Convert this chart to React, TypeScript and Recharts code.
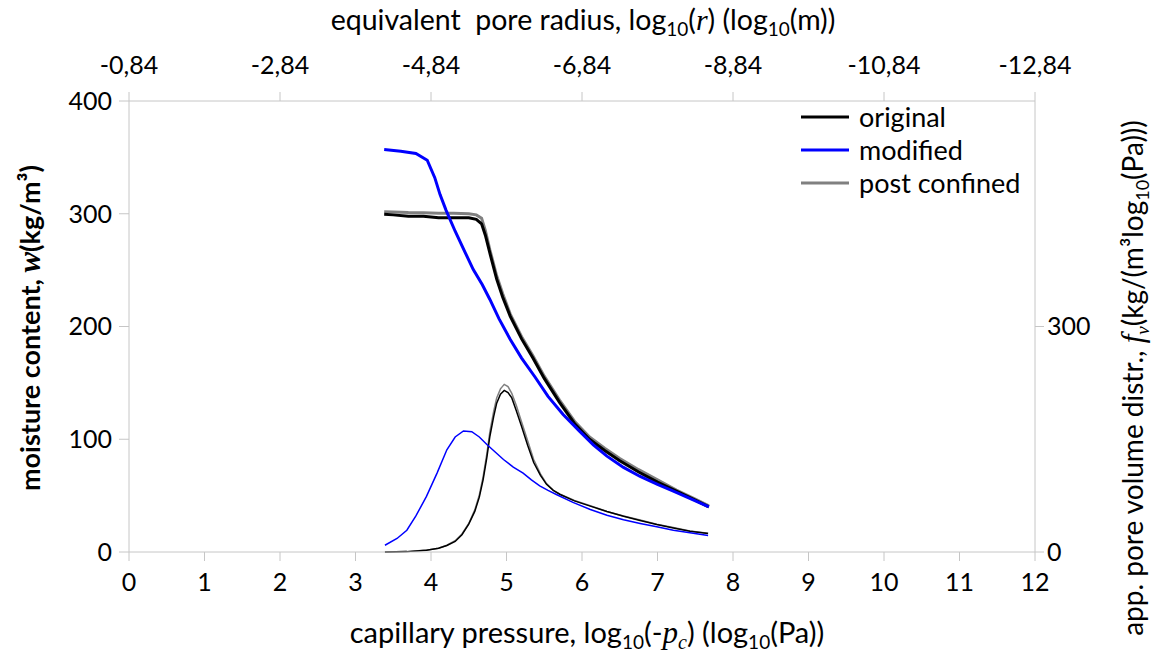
import React from 'react';
import { LineChart, Line, XAxis, YAxis } from 'recharts';

// capillary pressure log10(-pc) grid and moisture content w (kg/m3)
const pcOriginal = [3.38, 3.5, 3.7, 3.9, 4.1, 4.3, 4.5, 4.6, 4.67, 4.72, 4.78, 4.87, 4.95, 5.05, 5.2, 5.35, 5.5, 5.7, 5.9, 6.1, 6.3, 6.5, 6.75, 7.0, 7.25, 7.5, 7.68];
const wOriginal = [299.5, 299, 297.8, 297.8, 296.5, 296.4, 296.4, 295, 291, 281, 265, 242, 226, 209, 189, 172, 154, 133, 114, 100, 90, 81, 71, 62, 54, 46, 40];
const wPostConfined = [301.7, 301.5, 301, 300.8, 300.5, 300.5, 300, 299, 296, 285, 268, 245, 229, 211, 191, 174, 156, 135, 116, 102, 92, 83, 73, 64, 55, 47, 41];

const pcModified = [3.38, 3.6, 3.8, 3.95, 4.05, 4.12, 4.2, 4.32, 4.45, 4.56, 4.68, 4.78, 4.9, 5.05, 5.2, 5.38, 5.55, 5.75, 5.97, 6.15, 6.33, 6.55, 6.77, 7.0, 7.21, 7.45, 7.68];
const wModified = [357, 355.5, 353.4, 347.5, 332, 317, 303, 284.5, 266, 250.5, 237, 224, 207, 188.5, 172, 155, 138, 122, 107, 95, 85, 75, 67, 60, 54, 47, 40];

// apparent pore volume distribution fv
const pcDistr = [3.39, 3.68, 3.94, 4.1, 4.21, 4.32, 4.41, 4.5, 4.58, 4.64, 4.69, 4.74, 4.78, 4.83, 4.87, 4.92, 4.97, 5.02, 5.07, 5.13, 5.2, 5.28, 5.36, 5.45, 5.53, 5.62, 5.71, 5.9, 6.11, 6.33, 6.55, 6.77, 6.99, 7.21, 7.43, 7.67];
const fvOriginal = [0, 0.5, 2.4, 5, 8.6, 14, 23, 37, 54, 73, 96, 126, 154, 180, 198, 210, 215, 212, 205, 188, 167, 142, 119, 102, 90, 82, 76.5, 68, 61, 54, 47.6, 42, 36.6, 32, 27.7, 24.6];
const fvPostConfined = [0, 0.5, 2.5, 5, 9, 15, 24, 38, 56, 76, 100, 131, 160, 187, 205, 217, 223, 220, 211, 195, 173, 148, 123, 104, 91, 82, 77, 68.5, 61.5, 54, 48, 42.5, 37, 32.5, 28, 25];

const pcDistrModified = [3.39, 3.55, 3.68, 3.8, 3.94, 4.08, 4.21, 4.32, 4.43, 4.54, 4.64, 4.74, 4.85, 4.96, 5.09, 5.22, 5.33, 5.44, 5.55, 5.66, 5.88, 6.11, 6.33, 6.55, 6.77, 6.99, 7.21, 7.43, 7.67];
const fvModified = [9, 18, 29, 48, 74, 105, 136, 153, 161, 160, 153, 143, 133, 123, 113, 105, 96, 88, 82, 76.5, 66, 56.5, 49, 43, 38, 33.5, 29, 25.5, 22];

const bottomTicks = [0, 1, 2, 3, 4, 5, 6, 7, 8, 9, 10, 11, 12];
const topTicks = [0, 2, 4, 6, 8, 10, 12];
const topTickLabels = ['-0,84', '-2,84', '-4,84', '-6,84', '-8,84', '-10,84', '-12,84'];
const leftTicks = [0, 100, 200, 300, 400];
const rightTicks = [0, 300];

const legendNames = ['original', 'modified', 'post confined'];
const legendColors = ['#000000', '#0000ff', '#808080'];

const toPoints = (xs: number[], ys: number[]) => xs.map((x, i) => ({ x, y: ys[i] }));

const W = 1162;
const H = 662;
const FONT = 'Lato, "Open Sans", sans-serif';
const MATH = '"Liberation Serif", "DejaVu Serif", serif';
const AXIS = '#c6c6c6';
const tickStyle = { fill: '#000', fontSize: 25, fontFamily: FONT };

const Titles = () => (
  <svg width={W} height={H} style={{ position: 'absolute', left: 0, top: 0, pointerEvents: 'none' }}>
    <text x={583} y={30} textAnchor="middle" fontSize={28.5} fontFamily={FONT} fill="#000" style={{ whiteSpace: 'pre' }}>
      {'equivalent  pore radius, log'}<tspan fontSize={19} dy={6}>10</tspan>
      <tspan dy={-6}>(</tspan>
      <tspan fontFamily={MATH} fontStyle="italic" fontSize={30}>r</tspan>) (log<tspan fontSize={19} dy={6}>10</tspan>
      <tspan dy={-6}>(m))</tspan>
    </text>
    <text x={587} y={643} textAnchor="middle" fontSize={29} fontFamily={FONT} fill="#000">
      capillary pressure, log<tspan fontSize={19} dy={6}>10</tspan>
      <tspan dy={-6}>(-</tspan>
      <tspan fontFamily={MATH} fontStyle="italic" fontSize={31}>p</tspan>
      <tspan fontFamily={MATH} fontStyle="italic" fontSize={20} dy={6}>c</tspan>
      <tspan dy={-6}>) (log</tspan>
      <tspan fontSize={19} dy={6}>10</tspan>
      <tspan dy={-6}>(Pa))</tspan>
    </text>
    <text transform="translate(40,328) rotate(-90)" textAnchor="middle" fontSize={27} fontWeight="bold" fontFamily={FONT} fill="#000">
      moisture content, <tspan fontFamily={MATH} fontStyle="italic" fontSize={31}>w</tspan>(kg/m³)
    </text>
    <text transform="translate(1143,378) rotate(-90)" textAnchor="middle" fontSize={28} fontFamily={FONT} fill="#000">
      app. pore volume distr., <tspan fontFamily={MATH} fontStyle="italic" fontSize={31}>f</tspan>
      <tspan fontFamily={MATH} fontStyle="italic" fontSize={19} dy={6}>v</tspan>
      <tspan dy={-6}>(kg/(m³log</tspan>
      <tspan fontSize={18} dy={6}>10</tspan>
      <tspan dy={-6}>(Pa)))</tspan>
    </text>
  </svg>
);

const LegendBox = () => (
  <div style={{ position: 'absolute', left: 801, top: 100, fontFamily: FONT, fontSize: 27, color: '#000' }}>
    {legendNames.map((name, i) => (
      <div key={name} style={{ display: 'flex', alignItems: 'center', height: 33 }}>
        <svg width={48} height={6} style={{ marginRight: 10 }}>
          <line x1={0} y1={3} x2={48} y2={3} stroke={legendColors[i]} strokeWidth={3} />
        </svg>
        <span style={{ lineHeight: '33px' }}>{name}</span>
      </div>
    ))}
  </div>
);

export default function App() {
  return (
    <div style={{ position: 'absolute', left: 0, top: 0, width: W, height: H, background: '#fff' }}>
      <LineChart width={W} height={H} margin={{ top: 0, right: 0, bottom: 0, left: 0 }}>
        <XAxis
          xAxisId="bottom"
          type="number"
          dataKey="x"
          domain={[0, 12]}
          ticks={bottomTicks}
          allowDataOverflow
          height={110}
          tickSize={9}
          tickMargin={12}
          axisLine={{ stroke: AXIS }}
          tickLine={{ stroke: AXIS }}
          tick={tickStyle}
        />
        <XAxis
          xAxisId="top"
          orientation="top"
          type="number"
          dataKey="x"
          domain={[0, 12]}
          ticks={topTicks}
          allowDataOverflow
          height={101}
          tickSize={9}
          tickMargin={18}
          axisLine={{ stroke: AXIS }}
          tickLine={{ stroke: AXIS }}
          tick={tickStyle}
          tickFormatter={(v: number) => topTickLabels[topTicks.indexOf(v)]}
        />
        <YAxis
          yAxisId="left"
          type="number"
          domain={[0, 400]}
          ticks={leftTicks}
          width={129}
          tickSize={10}
          tickMargin={7}
          axisLine={{ stroke: AXIS }}
          tickLine={{ stroke: AXIS }}
          tick={tickStyle}
        />
        <YAxis
          yAxisId="right"
          orientation="right"
          type="number"
          domain={[0, 600]}
          ticks={rightTicks}
          width={127}
          tickSize={9}
          tickMargin={3}
          axisLine={{ stroke: AXIS }}
          tickLine={{ stroke: AXIS }}
          tick={tickStyle}
        />

        <Line xAxisId="top" yAxisId="right" data={toPoints(pcDistr, fvPostConfined)} dataKey="y" type="linear" stroke="#808080" strokeWidth={1.5} dot={false} isAnimationActive={false} />
        <Line xAxisId="top" yAxisId="right" data={toPoints(pcDistr, fvOriginal)} dataKey="y" type="linear" stroke="#000000" strokeWidth={1.5} dot={false} isAnimationActive={false} />
        <Line xAxisId="top" yAxisId="right" data={toPoints(pcDistrModified, fvModified)} dataKey="y" type="linear" stroke="#0000ff" strokeWidth={1.5} dot={false} isAnimationActive={false} />

        <Line xAxisId="bottom" yAxisId="left" data={toPoints(pcOriginal, wPostConfined)} dataKey="y" type="linear" stroke="#808080" strokeWidth={3} dot={false} isAnimationActive={false} />
        <Line xAxisId="bottom" yAxisId="left" data={toPoints(pcOriginal, wOriginal)} dataKey="y" type="linear" stroke="#000000" strokeWidth={3} dot={false} isAnimationActive={false} />
        <Line xAxisId="bottom" yAxisId="left" data={toPoints(pcModified, wModified)} dataKey="y" type="linear" stroke="#0000ff" strokeWidth={3} dot={false} isAnimationActive={false} />
      </LineChart>
      <Titles />
      <LegendBox />
    </div>
  );
}
